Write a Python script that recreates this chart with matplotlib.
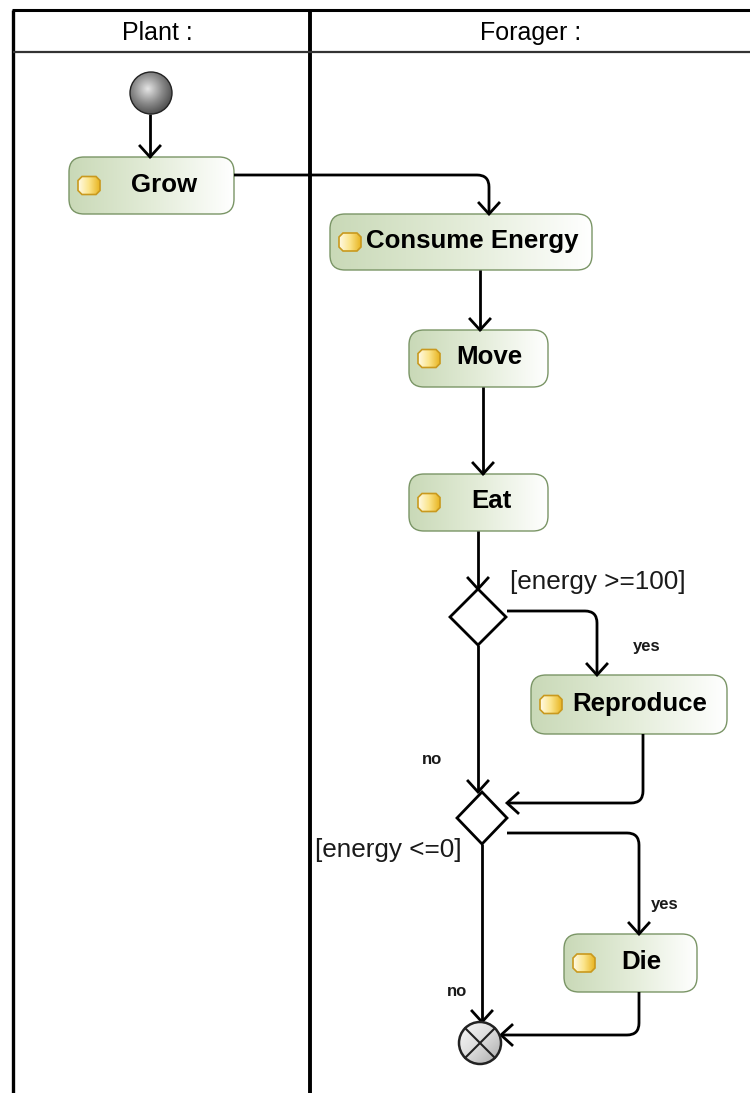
import numpy as np
import matplotlib.pyplot as plt
from matplotlib.patches import FancyBboxPatch, Circle, Polygon, PathPatch
from matplotlib.path import Path
from matplotlib.colors import LinearSegmentedColormap

plt.rcParams['font.family'] = ['Liberation Sans', 'DejaVu Sans']

# diagram content
lanes = ["Plant :", "Forager :"]
actions = ["Grow", "Consume Energy", "Move", "Eat", "Reproduce", "Die"]
guards = ["[energy >=100]", "[energy <=0]"]
branch_labels = ["yes", "no", "yes", "no"]

# layout (pixel units, y down)
W, H = 750, 1093
lane_header = [157, 531]
boxes = {
    "Grow": (69, 157, 234, 214),
    "Consume Energy": (330, 214, 592, 270),
    "Move": (409, 330, 548, 387),
    "Eat": (409, 474, 548, 531),
    "Reproduce": (531, 675, 727, 734),
    "Die": (564, 934, 697, 992),
}
text_x = {"Grow": 164, "Consume Energy": 472, "Move": 489, "Eat": 491,
          "Reproduce": 640, "Die": 641}
icon_dx = 20
start_node = (151, 93, 21)
end_node = (480, 1043, 21)
diamonds = [(478, 617, 28, 28), (482, 818, 25, 26)]
edges = [
    [(150, 114), (150, 157)],
    [(234, 175), (489, 175), (489, 214)],
    [(480, 270), (480, 330)],
    [(483, 387), (483, 474)],
    [(478, 531), (478, 589)],
    [(507, 611), (597, 611), (597, 675)],
    [(478, 645), (478, 792)],
    [(643, 734), (643, 803), (507, 803)],
    [(507, 833), (639, 833), (639, 934)],
    [(482, 844), (482, 1022)],
    [(639, 992), (639, 1035), (501, 1035)],
]
guard_pos = [(510, 582, 'left'), (462, 850, 'right')]
branch_pos = [(647, 647), (432, 760), (665, 904), (457, 991)]

fig = plt.figure(figsize=(W / 100, H / 100), dpi=100)
ax = fig.add_axes([0, 0, 1, 1])
ax.set_xlim(0, W)
ax.set_ylim(H, 0)
ax.axis('off')

# swimlanes
ax.plot([13, 13], [10, H], color='black', lw=2.4, solid_capstyle='butt')
ax.plot([310, 310], [10, H], color='black', lw=2.8, solid_capstyle='butt')
ax.plot([12, W], [10, 10], color='black', lw=2.2, solid_capstyle='butt')
ax.plot([13, W], [52, 52], color='#333333', lw=1.6, solid_capstyle='butt')
for cx, name in zip(lane_header, lanes):
    ax.text(cx, 33, name, ha='center', va='center', fontsize=18)

green = LinearSegmentedColormap.from_list('g', ['#c9d9b7', '#e3ecd8', '#ffffff'])
gold = LinearSegmentedColormap.from_list('y', ['#fffbe8', '#fbe48a', '#e8b420'])
grad = np.linspace(0, 1, 256).reshape(1, -1)


def action(name):
    x0, y0, x1, y1 = boxes[name]
    p = FancyBboxPatch((x0, y0), x1 - x0, y1 - y0,
                       boxstyle="round,pad=0,rounding_size=15",
                       fc='none', ec='#7a9566', lw=1.0, zorder=3)
    ax.add_patch(p)
    im = ax.imshow(grad, cmap=green, extent=(x0, x1, y1, y0), aspect='auto', zorder=2)
    im.set_clip_path(p)
    # small yellow icon
    cx, cy = x0 + icon_dx, (y0 + y1) / 2
    w, h, c = 11, 9, 4
    pts = [(cx - w + c, cy - h), (cx + w - c, cy - h), (cx + w, cy - h + c), (cx + w, cy + h - c),
           (cx + w - c, cy + h), (cx - w + c, cy + h), (cx - w, cy + h - c), (cx - w, cy - h + c)]
    oc = Polygon(pts, closed=True, fc='none', ec='#c9991e', lw=1.2, zorder=5)
    ax.add_patch(oc)
    im2 = ax.imshow(grad, cmap=gold, extent=(cx - w, cx + w, cy + h, cy - h), aspect='auto', zorder=4)
    im2.set_clip_path(oc)
    ax.text(text_x[name], cy - 1, name, ha='center', va='center', fontsize=18.6,
            fontweight='bold', color='black', zorder=6)


for a in actions:
    action(a)


def route(pts, r=12):
    pts = [np.array(p, float) for p in pts]
    verts = [pts[0]]
    codes = [Path.MOVETO]
    for i in range(1, len(pts) - 1):
        d1 = pts[i] - pts[i - 1]
        d1 /= np.linalg.norm(d1)
        d2 = pts[i + 1] - pts[i]
        d2 /= np.linalg.norm(d2)
        verts += [pts[i] - d1 * r, pts[i], pts[i] + d2 * r]
        codes += [Path.LINETO, Path.CURVE3, Path.CURVE3]
    verts.append(pts[-1])
    codes.append(Path.LINETO)
    ax.add_patch(PathPatch(Path(verts, codes), fill=False, ec='black', lw=2.0, zorder=7))
    d = pts[-1] - pts[-2]
    d /= np.linalg.norm(d)
    n = np.array([-d[1], d[0]])
    tip = pts[-1]
    a = tip - d * 11 + n * 10
    b = tip - d * 11 - n * 10
    ax.plot([a[0], tip[0], b[0]], [a[1], tip[1], b[1]], color='black', lw=2.0,
            solid_joinstyle='miter', zorder=7)


for e in edges:
    route(e)

# decision nodes
for cx, cy, hw, hh in diamonds:
    ax.add_patch(Polygon([(cx, cy - hh), (cx + hw, cy), (cx, cy + hh), (cx - hw, cy)],
                         closed=True, fc='white', ec='black', lw=2.0, zorder=8))

# initial node
sx, sy, sr = start_node
c0 = Circle((sx, sy), sr, fc='none', ec='#222222', lw=1.0, zorder=9)
ax.add_patch(c0)
yy, xx = np.mgrid[-1:1:200j, -1:1:200j]
rad = np.clip(np.hypot(xx + 0.15, yy + 0.2) / 1.4, 0, 1)
gray = LinearSegmentedColormap.from_list('gr', ['#e4e4e4', '#8a8a8a', '#3c3c3c'])
im = ax.imshow(rad, cmap=gray, extent=(sx - sr, sx + sr, sy + sr, sy - sr), zorder=8)
im.set_clip_path(c0)

# final node
fx, fy, fr = end_node
c1 = Circle((fx, fy), fr, fc='none', ec='#222222', lw=1.8, zorder=9)
ax.add_patch(c1)
lin = np.clip((xx + yy + 2) / 4, 0, 1)
light = LinearSegmentedColormap.from_list('lg', ['#fafafa', '#dcdcdc', '#a8a8a8'])
im = ax.imshow(lin, cmap=light, extent=(fx - fr, fx + fr, fy + fr, fy - fr), zorder=8)
im.set_clip_path(c1)
k = fr * 0.707
ax.plot([fx - k, fx + k], [fy - k, fy + k], color='#222222', lw=1.5, zorder=9)
ax.plot([fx - k, fx + k], [fy + k, fy - k], color='#222222', lw=1.5, zorder=9)

# guards and branch labels
for (gx, gy, ha), g in zip(guard_pos, guards):
    ax.text(gx, gy, g, ha=ha, va='center', fontsize=18.8, color='#1a1a1a', zorder=10)
for (bx, by), b in zip(branch_pos, branch_labels):
    ax.text(bx, by, b, ha='center', va='center', fontsize=12, fontweight='bold',
            color='#1a1a1a', zorder=10)

fig.savefig('out.png', dpi=100, facecolor='white')
